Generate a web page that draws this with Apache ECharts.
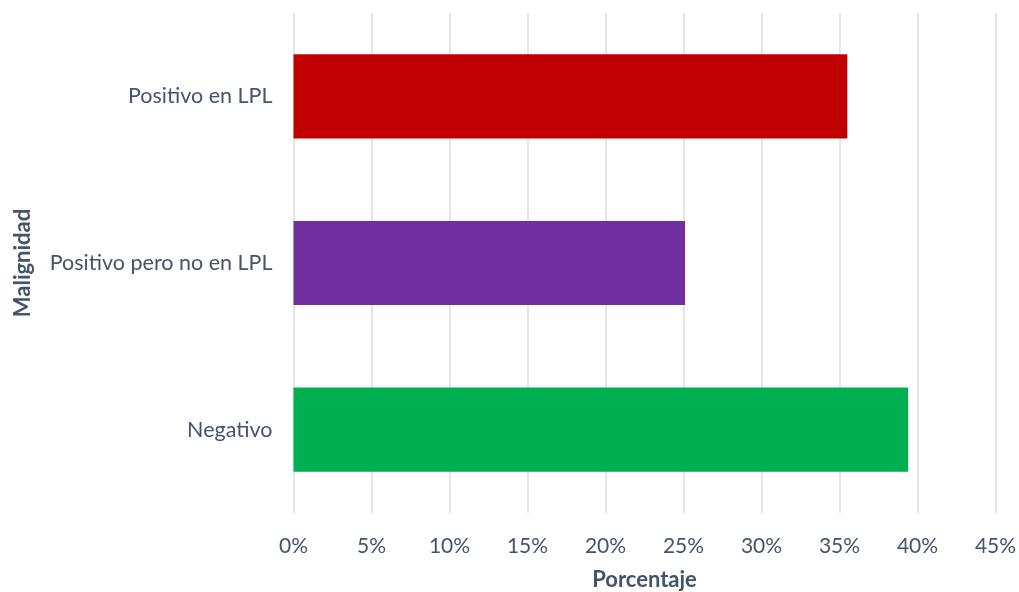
<!DOCTYPE html>
<html><head><meta charset="utf-8">
<script src="https://cdn.jsdelivr.net/npm/echarts@6/dist/echarts.min.js"></script>
<style>html,body{margin:0;padding:0;background:#fff}#c{width:1019px;height:592px}</style>
</head><body><div id="c"></div>
<script>
const categories = ['Negativo', 'Positivo pero no en LPL', 'Positivo en LPL'];
const values = [39.4, 25.1, 35.5];
const barColors = ['#00B050', '#7030A0', '#C00000'];
const xTicks = [0, 5, 10, 15, 20, 25, 30, 35, 40, 45];

const chart = echarts.init(document.getElementById('c'));
const font = 'Lato, "Open Sans", sans-serif';
chart.setOption({
  animation: false,
  grid: { left: 293.5, right: 23.5, top: 13, bottom: 79, containLabel: false, outerBoundsMode: 'none' },
  xAxis: {
    type: 'value', min: xTicks[0], max: xTicks[xTicks.length - 1], interval: 5,
    name: 'Porcentaje', nameLocation: 'middle', nameGap: 56,
    nameTextStyle: { fontFamily: font, fontSize: 22, fontWeight: 'bold', color: '#44546A' },
    axisLine: { show: false }, axisTick: { show: false },
    axisLabel: { formatter: v => v + '%', fontFamily: font, fontSize: 21, color: '#44546A', margin: 23 },
    splitLine: { lineStyle: { color: '#D9DDE3', width: 1.5 } }
  },
  yAxis: {
    type: 'category', data: categories,
    name: 'Malignidad', nameLocation: 'middle', nameGap: 260, nameRotate: 90,
    nameTextStyle: { fontFamily: font, fontSize: 22, fontWeight: 'bold', color: '#44546A' },
    axisLine: { show: false }, axisTick: { show: false },
    axisLabel: { fontFamily: font, fontSize: 21.5, color: '#44546A', margin: 21 }
  },
  series: [{
    type: 'bar', barWidth: '50.5%',
    data: values.map((v, i) => ({ value: v, itemStyle: { color: barColors[i] } }))
  }]
});
</script></body></html>
